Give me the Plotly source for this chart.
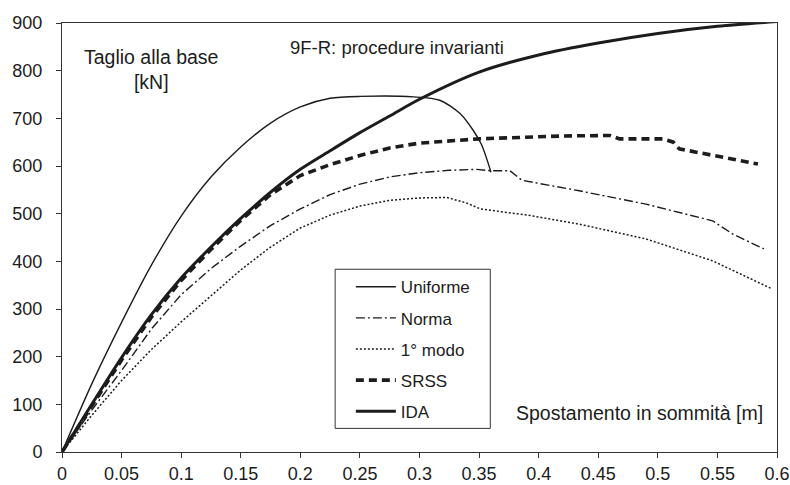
import plotly.graph_objects as go

# ---- data ----
x_uniforme = [0, 0.025, 0.05, 0.075, 0.1, 0.125, 0.15, 0.175, 0.2, 0.225, 0.25, 0.295, 0.317, 0.334, 0.345, 0.352, 0.36]
y_uniforme = [0, 143, 272, 392, 495, 577, 640, 690, 724, 742, 746, 745, 738, 710, 675, 645, 587]

x_norma = [0, 0.025, 0.05, 0.075, 0.1, 0.125, 0.15, 0.175, 0.2, 0.225, 0.25, 0.275, 0.3, 0.325, 0.348, 0.36, 0.376, 0.386, 0.434, 0.49, 0.546, 0.563, 0.589]
y_norma = [0, 88, 171, 258, 330, 385, 432, 475, 510, 540, 562, 577, 586, 591, 593, 590, 590, 570, 548, 520, 485, 457, 426]

x_modo1 = [0, 0.025, 0.05, 0.075, 0.1, 0.125, 0.15, 0.175, 0.2, 0.225, 0.25, 0.275, 0.3, 0.323, 0.34, 0.351, 0.393, 0.434, 0.49, 0.546, 0.596]
y_modo1 = [0, 77, 150, 215, 273, 328, 382, 430, 470, 497, 516, 528, 533, 534, 522, 510, 496, 478, 447, 401, 342]

x_srss = [0, 0.025, 0.05, 0.075, 0.1, 0.125, 0.15, 0.175, 0.2, 0.225, 0.25, 0.275, 0.3, 0.35, 0.42, 0.46, 0.468, 0.504, 0.513, 0.518, 0.584]
y_srss = [0, 97, 193, 283, 360, 425, 486, 540, 580, 603, 622, 638, 648, 657, 663, 664, 657, 657, 650, 636, 604]

x_ida = [0, 0.025, 0.05, 0.075, 0.1, 0.125, 0.15, 0.175, 0.2, 0.225, 0.25, 0.275, 0.3, 0.35, 0.4, 0.45, 0.5, 0.55, 0.6]
y_ida = [0, 100, 198, 288, 365, 430, 490, 545, 593, 632, 670, 705, 740, 797, 833, 858, 878, 893, 903]

x_tickvals = [0, 0.05, 0.1, 0.15, 0.2, 0.25, 0.3, 0.35, 0.4, 0.45, 0.5, 0.55, 0.6]
x_ticktext = ["0", "0.05", "0.1", "0.15", "0.2", "0.25", "0.3", "0.35", "0.4", "0.45", "0.5", "0.55", "0.6"]
y_tickvals = [0, 100, 200, 300, 400, 500, 600, 700, 800, 900]

INK = "#1c1c1c"
FONT = "Liberation Sans, Arial, sans-serif"

series = [
    ("Uniforme", x_uniforme, y_uniforme, dict(color=INK, width=1.4, dash="solid"), "spline"),
    ("Norma", x_norma, y_norma, dict(color=INK, width=1.4, dash="9px,3px,2px,3px"), "linear"),
    ("1° modo", x_modo1, y_modo1, dict(color=INK, width=1.5, dash="2px,2px"), "linear"),
    ("SRSS", x_srss, y_srss, dict(color=INK, width=3.6, dash="8px,5px"), "linear"),
    ("IDA", x_ida, y_ida, dict(color=INK, width=3.0, dash="solid"), "spline"),
]

fig = go.Figure()
for name, xs, ys, line, shape in series:
    line = dict(line, shape=shape)
    if shape == "spline":
        line["smoothing"] = 0.8
    fig.add_trace(go.Scatter(x=xs, y=ys, mode="lines", name=name, line=line,
                             legendgroup=name))

axis_common = dict(showgrid=False, zeroline=False, showline=True, mirror=True,
                   linecolor="#333", linewidth=1, ticks="outside", ticklen=5,
                   tickcolor="#333", automargin=False,
                   tickfont=dict(family=FONT, size=18, color=INK))

fig.update_layout(
    width=790, height=485,
    margin=dict(l=62, r=13, t=23, b=33),
    paper_bgcolor="white", plot_bgcolor="white",
    font=dict(family=FONT, size=17, color=INK),
    showlegend=True,
    legend=dict(
        x=0.404, y=0.426, xanchor="left", yanchor="top",
        bgcolor="rgba(0,0,0,0)", borderwidth=0,
        font=dict(family=FONT, size=17, color=INK),
        tracegroupgap=6, itemwidth=40,
    ),
    xaxis=dict(range=[0, 0.6], tickvals=x_tickvals, ticktext=x_ticktext,
               ticklabelstandoff=0, **axis_common),
    yaxis=dict(range=[0, 900], tickvals=y_tickvals,
               ticklabelstandoff=10, **axis_common),
    shapes=[
        dict(type="rect", xref="paper", yref="paper", x0=0.382, x1=0.599,
             y0=0.055, y1=0.426, line=dict(color="#333", width=1),
             fillcolor="white", layer="below"),
    ],
    annotations=[
        dict(text="Taglio alla base<br>[kN]", xref="paper", yref="paper",
             x=0.125, y=0.892, xanchor="center", yanchor="middle",
             showarrow=False, font=dict(family=FONT, size=19.5, color=INK)),
        dict(text="9F-R: procedure invarianti", xref="paper", yref="paper",
             x=0.469, y=0.944, xanchor="center", yanchor="middle",
             showarrow=False, font=dict(family=FONT, size=18.5, color=INK)),
        dict(text="Spostamento in sommità [m]", xref="paper", yref="paper",
             x=0.808, y=0.092, xanchor="center", yanchor="middle",
             showarrow=False, font=dict(family=FONT, size=19.5, color=INK)),
    ],
)

fig.write_html("out.html")
